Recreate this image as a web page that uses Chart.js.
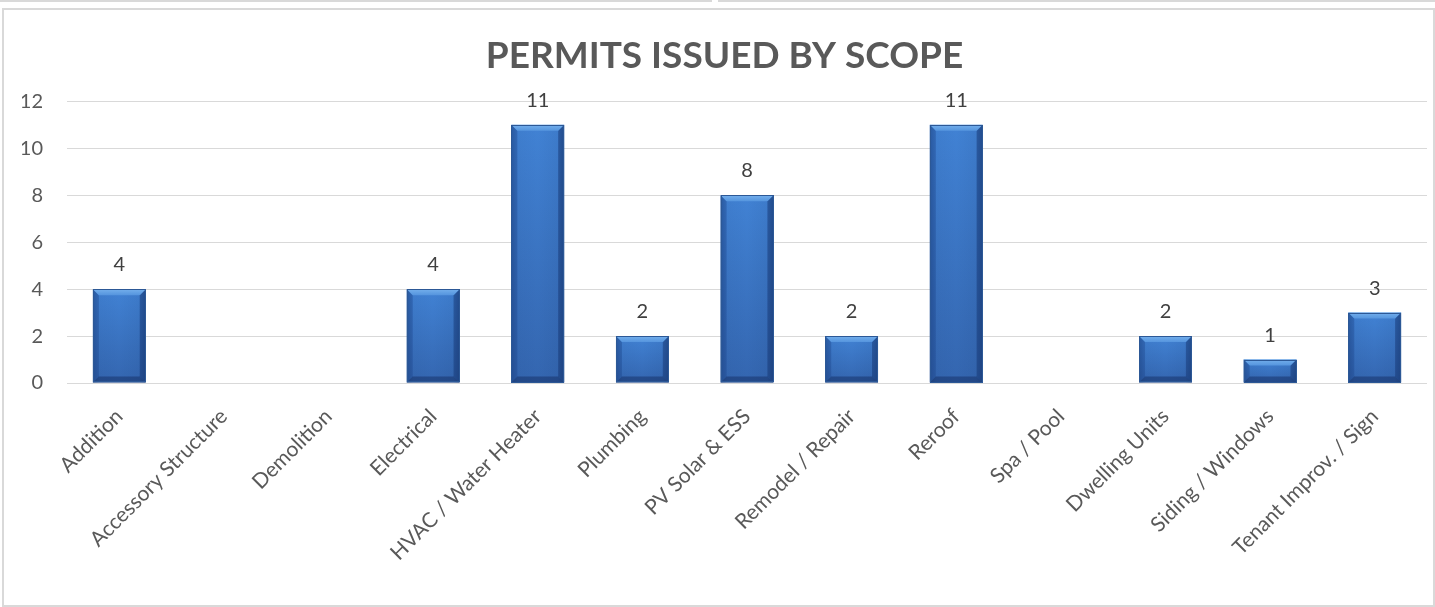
<!DOCTYPE html>
<html>
<head>
<meta charset="utf-8">
<script src="https://cdn.jsdelivr.net/npm/chart.js@4/dist/chart.umd.min.js"></script>
<style>
  html, body { margin: 0; padding: 0; background: #ffffff; }
  body { width: 1435px; height: 607px; position: relative; overflow: hidden; }
  .strip1 { position: absolute; left: 0; top: 0; width: 712px; height: 2px; background: #d9d9d9; }
  .strip2 { position: absolute; left: 718px; top: 0; width: 717px; height: 2px; background: #d9d9d9; }
  .frame { position: absolute; left: 2px; top: 8px; width: 1429px; height: 595px; border: 2px solid #d9d9d9; box-sizing: content-box; }
  #wrap { position: absolute; left: 0; top: 0; width: 1435px; height: 607px; }
</style>
</head>
<body>
<div class="strip1"></div>
<div class="strip2"></div>
<div class="frame"></div>
<div id="wrap"><canvas id="c" width="1435" height="607"></canvas></div>
<script>
const chartTitle = 'PERMITS ISSUED BY SCOPE';
const categories = ['Addition', 'Accessory Structure', 'Demolition', 'Electrical', 'HVAC / Water Heater', 'Plumbing', 'PV Solar & ESS', 'Remodel / Repair', 'Reroof', 'Spa / Pool', 'Dwelling Units', 'Siding / Windows', 'Tenant Improv. / Sign'];
const permits = [4, 0, 0, 4, 11, 2, 8, 2, 11, 0, 2, 1, 3];
const yTicks = [0, 2, 4, 6, 8, 10, 12];

const bevelPlugin = {
  id: 'bevel',
  afterDatasetsDraw(chart) {
    const ctx = chart.ctx;
    const meta = chart.getDatasetMeta(0);
    meta.data.forEach((bar) => {
      const p = bar.getProps(['x', 'y', 'base', 'width'], true);
      const l = p.x - p.width / 2, r = p.x + p.width / 2;
      const t = Math.min(p.y, p.base), b = Math.max(p.y, p.base);
      const h = b - t;
      if (h <= 0.5) return;
      const bv = Math.min(6, h / 2, p.width / 2);
      ctx.save();
      // body: vertical gradient
      const g = ctx.createLinearGradient(0, t, 0, b);
      g.addColorStop(0, '#4182d4');
      g.addColorStop(1, '#3466b0');
      ctx.fillStyle = g;
      ctx.fillRect(l, t, r - l, h);
      // side shading
      const sg = ctx.createLinearGradient(l, 0, r, 0);
      sg.addColorStop(0, 'rgba(20,50,100,0.35)');
      sg.addColorStop(0.12, 'rgba(20,50,100,0.05)');
      sg.addColorStop(0.5, 'rgba(20,50,100,0)');
      sg.addColorStop(0.88, 'rgba(20,50,100,0.08)');
      sg.addColorStop(1, 'rgba(20,50,100,0.4)');
      ctx.fillStyle = sg;
      ctx.fillRect(l, t, r - l, h);
      // left bevel
      ctx.fillStyle = 'rgba(30,70,140,0.35)';
      ctx.beginPath(); ctx.moveTo(l, t); ctx.lineTo(l + bv, t + bv); ctx.lineTo(l + bv, b - bv); ctx.lineTo(l, b); ctx.closePath(); ctx.fill();
      // right bevel
      ctx.fillStyle = 'rgba(20,50,110,0.45)';
      ctx.beginPath(); ctx.moveTo(r, t); ctx.lineTo(r - bv, t + bv); ctx.lineTo(r - bv, b - bv); ctx.lineTo(r, b); ctx.closePath(); ctx.fill();
      // bottom bevel
      ctx.fillStyle = 'rgba(20,45,100,0.5)';
      ctx.beginPath(); ctx.moveTo(l, b); ctx.lineTo(l + bv, b - bv); ctx.lineTo(r - bv, b - bv); ctx.lineTo(r, b); ctx.closePath(); ctx.fill();
      // top bevel
      const tg = ctx.createLinearGradient(0, t, 0, t + bv);
      tg.addColorStop(0, '#74afec');
      tg.addColorStop(1, '#5595de');
      ctx.fillStyle = tg;
      ctx.beginPath(); ctx.moveTo(l, t); ctx.lineTo(r, t); ctx.lineTo(r - bv, t + bv); ctx.lineTo(l + bv, t + bv); ctx.closePath(); ctx.fill();
      // outline
      ctx.strokeStyle = '#2c5896';
      ctx.lineWidth = 1;
      ctx.strokeRect(Math.round(l) + 0.5, Math.round(t) + 0.5, Math.round(r - l) - 1, Math.round(h) - 1);
      ctx.restore();
    });
  },
  afterDraw(chart) {
    const ctx = chart.ctx;
    const meta = chart.getDatasetMeta(0);
    ctx.save();
    ctx.font = '20px Lato';
    ctx.fillStyle = '#404040';
    ctx.textAlign = 'center';
    ctx.textBaseline = 'alphabetic';
    meta.data.forEach((bar, i) => {
      const v = chart.data.datasets[0].data[i];
      if (!v) return;
      const p = bar.getProps(['x', 'y'], true);
      ctx.fillText(String(v), p.x, p.y - 18);
    });
    ctx.restore();
  }
};

new Chart(document.getElementById('c'), {
  type: 'bar',
  data: {
    labels: categories,
    datasets: [{
      label: 'Permits',
      data: permits,
      backgroundColor: 'rgba(0,0,0,0)',
      borderWidth: 0,
      barPercentage: 0.505,
      categoryPercentage: 1
    }]
  },
  options: {
    responsive: false,
    animation: false,
    layout: { padding: { left: 22, right: 8, top: 10, bottom: 0 } },
    plugins: {
      legend: { display: false },
      tooltip: { enabled: false },
      title: {
        display: true,
        text: chartTitle,
        color: '#595959',
        font: { family: 'Lato', size: 37, weight: 'bold' },
        padding: { top: 24, bottom: 23 }
      }
    },
    scales: {
      x: {
        grid: { display: false },
        border: { display: false },
        ticks: {
          color: '#595959',
          font: { family: 'Lato', size: 21 },
          maxRotation: 45,
          minRotation: 45,
          autoSkip: false,
          padding: 13
        },
        afterFit(s) { s.height = 224; }
      },
      y: {
        min: 0,
        max: 12,
        afterBuildTicks(s) { s.ticks = yTicks.map(v => ({ value: v })); },
        grid: { color: '#d9d9d9', lineWidth: 1, drawTicks: false },
        border: { display: false },
        ticks: {
          color: '#595959',
          font: { family: 'Lato', size: 20 },
          padding: 24
        },
        afterFit(s) { s.width = 45; }
      }
    }
  },
  plugins: [bevelPlugin]
});
</script>
</body>
</html>
